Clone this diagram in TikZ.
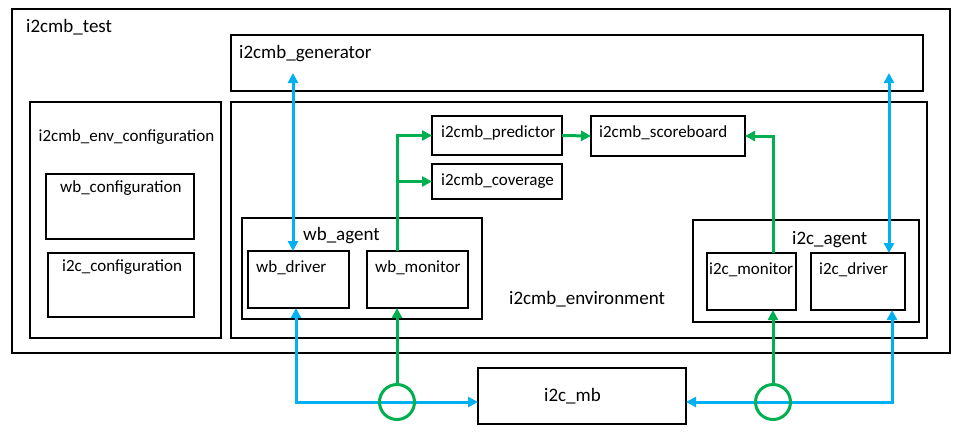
\documentclass[tikz,border=0pt]{standalone}
\usepackage{fontspec}
\setmainfont{Carlito}
\usetikzlibrary{arrows.meta}
\definecolor{cblue}{HTML}{00B0F0}
\definecolor{cgreen}{HTML}{00B050}
\tikzset{
  box/.style={draw=black, line width=2pt, inner sep=0pt, outer sep=0pt, anchor=north west},
  big/.style={font=\fontsize{19}{19}\selectfont, inner sep=0pt, anchor=base west},
  small/.style={font=\fontsize{17}{17}\selectfont, inner sep=0pt, anchor=base west},
  bl/.style={draw=cblue, line width=3pt, {Triangle[length=10pt,width=10pt]}-{Triangle[length=10pt,width=10pt]}},
  bonly/.style={draw=cblue, line width=3pt},
  gr/.style={draw=cgreen, line width=3pt, -{Triangle[length=10pt,width=10pt]}},
  gronly/.style={draw=cgreen, line width=3pt},
  tap/.style={draw=cgreen, line width=3pt, circle, minimum size=35pt, inner sep=0pt, outer sep=0pt}
}
\newcommand\mkbox[5]{\node[box, minimum width={(#4-#2)*1pt}, minimum height={(#5-#3)*1pt}] (#1) at (#2,#3) {};}
\begin{document}
\begin{tikzpicture}[x=1pt,y=-1pt]
\useasboundingbox (0,0) rectangle (967,432);
% boxes
\mkbox{test}{12}{9}{950}{353}
\mkbox{gen}{231}{35}{923}{91}
\mkbox{envcfg}{30}{102}{221}{338}
\mkbox{wbcfg}{46}{174}{194}{239}
\mkbox{iccfg}{48}{253}{194}{317}
\mkbox{env}{231}{102}{927}{338}
\mkbox{pred}{432}{116}{562}{155}
\mkbox{cov}{432}{164}{562}{199}
\mkbox{sb}{591}{116}{745}{156}
\mkbox{wba}{242}{218}{482}{319}
\mkbox{wbd}{248}{251}{349}{308}
\mkbox{wbm}{367}{251}{468}{308}
\mkbox{ica}{693}{220}{919}{322}
\mkbox{icm}{707}{253}{796}{310}
\mkbox{icd}{811}{253}{905}{310}
\mkbox{mb}{478}{368}{686}{424}
% labels
\node[big] (ltest) at (26,32) {i2cmb\_test};
\node[big] (lgen) at (239,58.5) {i2cmb\_generator};
\node[small] (lenvcfg) at (38.5,141.5) {i2cmb\_env\_configuration};
\node[small] (lwbcfg) at (60,192) {wb\_configuration};
\node[small] (liccfg) at (62,271) {i2c\_configuration};
\node[big] (lenv) at (509,304) {i2cmb\_environment};
\node[small] (lpred) at (441,137) {i2cmb\_predictor};
\node[small] (lcov) at (441,185.5) {i2cmb\_coverage};
\node[small] (lsb) at (599,137.5) {i2cmb\_scoreboard};
\node[big] (lwba) at (303,240.5) {wb\_agent};
\node[small] (lwbd) at (256,272.5) {wb\_driver};
\node[small] (lwbm) at (375,272) {wb\_monitor};
\node[big] (lica) at (792,244) {i2c\_agent};
\node[small] (licm) at (709,274.5) {i2c\_monitor};
\node[small] (licd) at (819,274.5) {i2c\_driver};
\node[big] (lmb) at (544,401.5) {i2c\_mb};
% coordinates
\coordinate (g1) at (293,73);
\coordinate (g2) at (889,73);
\coordinate (d1) at (296,402);
\coordinate (d2) at (892,402);
% blue connectors
\draw[bl] (g1) -- (g1 |- wbd.north);
\draw[bl] (g2) -- (g2 |- icd.north);
\draw[bl] (d1 |- wbd.south) -- (d1) -- (mb.west |- d1);
\draw[bl] (d2 |- icd.south) -- (d2) -- (mb.east |- d2);
% taps
\node[tap] (t1) at (397,402) {};
\node[tap] (t2) at (773,402) {};
% green connectors
\draw[gr] (t1.north) -- (t1 |- wbm.south);
\draw[gr] (t2.north) -- (t2 |- icm.south);
\draw[gr] (t1 |- wbm.north) |- (pred.west);
\draw[gr] (t1 |- cov.west) -- (cov.west);
\draw[gr] (pred.east) -- (sb.west);
\draw[gr] (t2 |- icm.north) |- (sb.east);
\end{tikzpicture}
\end{document}
